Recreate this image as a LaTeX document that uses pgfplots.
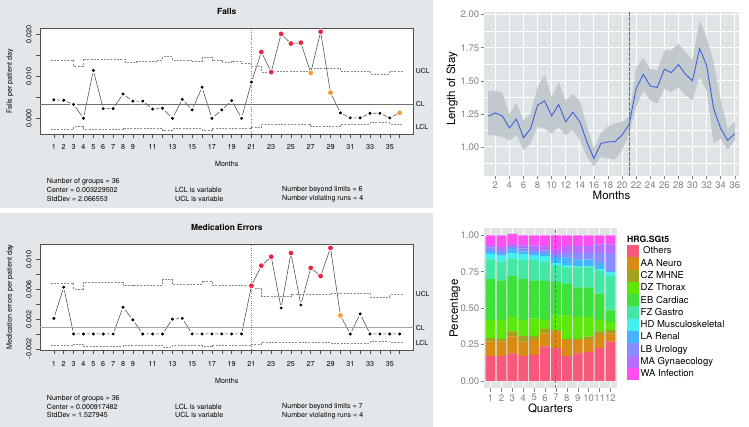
\documentclass[border=0pt]{standalone}
\usepackage{pgfplots}
\pgfplotsset{compat=1.18}
\usepackage{pgfplotstable}
\usepackage{fontspec}
\setmainfont{TeX Gyre Heros}

\newcommand{\fs}[1]{\fontsize{#1bp}{#1bp}\selectfont}

% qcc panels
\definecolor{qbg}{HTML}{E3E7EA}
\definecolor{qframe}{HTML}{505050}
\definecolor{qline}{HTML}{4A4A4A}
\definecolor{qlim}{HTML}{8A8A8A}
\definecolor{qcl}{HTML}{707070}
\definecolor{qred}{HTML}{E8233F}
\definecolor{qorange}{HTML}{F59B2F}
\definecolor{qvline}{HTML}{EA4C78}
% ggplot panels
\definecolor{ggbg}{HTML}{DFE4E7}
\definecolor{ggrib}{HTML}{BCC5CA}
\definecolor{ggblue}{HTML}{3F5FDB}
\definecolor{ggred}{HTML}{E23C46}
\definecolor{ggtick}{HTML}{7F7F7F}
% HRG groups
\definecolor{cOthers}{HTML}{F7587C}
\definecolor{cAA}{HTML}{D98B14}
\definecolor{cCZ}{HTML}{A3A21C}
\definecolor{cDZ}{HTML}{5CE80A}
\definecolor{cEB}{HTML}{3EE03A}
\definecolor{cFZ}{HTML}{44E8A4}
\definecolor{cHD}{HTML}{44F0EE}
\definecolor{cLA}{HTML}{45B5FF}
\definecolor{cLB}{HTML}{8A8CFF}
\definecolor{cMA}{HTML}{B76DFF}
\definecolor{cWA}{HTML}{FF4FF0}

\pgfplotsset{
  qcc/.style={
    scale only axis, width=373.5bp, height=106bp,
    xmin=-0.4, xmax=37.4,
    axis background/.style={fill=white},
    axis line style={draw=qframe, line width=0.6bp},
    tick align=outside, xtick pos=bottom, ytick pos=left,
    major tick length=3.8bp,
    tick style={draw=qframe, line width=0.5bp},
    xtick={1,...,36},
    xticklabels={1,2,3,4,5,6,7,8,9,,11,,13,,15,,17,,19,,21,,23,,25,,27,,29,,31,,33,,35,},
    ticklabel style={font=\fs{7.2}, text=black},
    xticklabel style={inner sep=0pt, anchor=north, yshift=-6.4bp},
    yticklabel style={inner sep=0pt, xshift=-4.5bp, rotate=90, anchor=south},
    scaled y ticks=false,
  },
  limit/.style={qlim, line width=0.6bp, dash pattern=on 2bp off 1.3bp, const plot, mark=none},
  halo/.style={only marks, mark=*, white, mark size=3.1bp},
  pts/.style={scatter, only marks, scatter src=explicit symbolic,
    scatter/classes={
      b={mark=*, mark size=1.3bp, black},
      r={mark=*, mark size=2.1bp, qred},
      o={mark=*, mark size=2.1bp, qorange}}},
  ggax/.style={
    scale only axis,
    axis background/.style={fill=ggbg},
    axis line style={draw=none},
    tick align=outside, xtick pos=bottom, ytick pos=left,
    major tick length=3.5bp, minor tick length=0pt,
    tick style={draw=ggtick, line width=0.5bp},
    major grid style={draw=white, line width=0.9bp},
    minor grid style={draw=white, line width=0.45bp},
    ticklabel style={font=\fs{9.5}, text=ggtick},
    xticklabel style={inner sep=0pt, anchor=north, yshift=-2.4bp},
    yticklabel style={inner sep=0pt, anchor=east, xshift=-1.2bp},
    /pgf/number format/assume math mode=true,
  },
  hrg/.style={draw=none, legend image code/.code={\fill[##1] (0bp,-6.15bp) rectangle (12.3bp,6.15bp);}},
}

% Falls per patient day (c: b in control, r beyond limits, o violating runs)
\pgfplotstableread{
m v c
1 0.0044 b
2 0.0043 b
3 0.0033 b
4 0.0000 b
5 0.0114 b
6 0.0023 b
7 0.0023 b
8 0.0058 b
9 0.0041 b
10 0.0041 b
11 0.0022 b
12 0.0024 b
13 0.0000 b
14 0.0045 b
15 0.0020 b
16 0.0074 b
17 0.0000 b
18 0.0020 b
19 0.0042 b
20 0.0000 b
21 0.0086 b
22 0.0158 r
23 0.0110 r
24 0.0201 r
25 0.0178 r
26 0.0180 r
27 0.0108 o
28 0.0206 r
29 0.0061 o
30 0.0013 b
31 0.0001 b
32 0.0001 b
33 0.0012 b
34 0.0012 b
35 0.0001 b
36 0.0013 o
}\falls

\pgfplotstableread{
m v
0.7 0.0139
3.0 0.01245
3.95 0.0141
8.2 0.01324
9.3 0.01348
11.5 0.0139
12.0 0.01467
13.0 0.0139
15.0 0.01348
16.0 0.01452
17.0 0.0137
18.0 0.01324
19.0 0.0136
20.0 0.0132
21.0 0.01245
22.0 0.01095
23.0 0.0113
27.0 0.0119
30.0 0.0113
33.0 0.01055
35.0 0.0112
36.3 0.0112
}\fallsucl

\pgfplotstableread{
m v
0.7 -0.0026
3.0 -0.0020
3.95 -0.0026
8.0 -0.0023
12.0 -0.00286
13.0 -0.0025
16.0 -0.0028
17.0 -0.0023
21.0 -0.00215
22.0 -0.00143
27.0 -0.0018
30.0 -0.0015
33.0 -0.00105
35.0 -0.0014
36.3 -0.0014
}\fallslcl

% Medication errors per patient day
\pgfplotstableread{
m v c
1 0.0021 b
2 0.0063 b
3 0 b
4 0 b
5 0 b
6 0 b
7 0 b
8 0.0036 b
9 0.0019 b
10 0 b
11 0 b
12 0 b
13 0.0020 b
14 0.0021 b
15 0 b
16 0 b
17 0 b
18 0 b
19 0 b
20 0 b
21 0.0065 r
22 0.0092 r
23 0.0104 r
24 0.0035 b
25 0.0109 r
26 0.0039 b
27 0.0089 r
28 0.0078 r
29 0.0116 r
30 0.0025 o
31 0 b
32 0.0027 b
33 0 b
34 0 b
35 0 b
36 0 b
}\meds

\pgfplotstableread{
m v
0.7 0.00685
3.0 0.00608
3.95 0.00694
8.0 0.00649
9.0 0.0066
12.0 0.0073
13.0 0.0067
16.0 0.00716
17.0 0.0066
20.0 0.00649
21.0 0.0061
22.0 0.00514
25.0 0.0053
29.0 0.0055
33.0 0.0050
35.0 0.0053
36.3 0.0053
}\medsucl

\pgfplotstableread{
m v
0.7 -0.00158
3.0 -0.00135
3.95 -0.00166
8.0 -0.0015
12.0 -0.00176
13.0 -0.00158
16.0 -0.00166
17.0 -0.0015
21.0 -0.0014
22.0 -0.00112
29.0 -0.00122
33.0 -0.0010
35.0 -0.0011
36.3 -0.0011
}\medslcl

% Length of stay: monthly mean
\pgfplotstableread{
m mean
1 1.232
2 1.257
3 1.234
4 1.143
5 1.21
6 1.07
7 1.136
8 1.315
9 1.347
10 1.234
11 1.32
12 1.19
13 1.262
14 1.19
15 1.038
16 0.912
17 1.026
18 1.038
19 1.04
20 1.09
21 1.171
22 1.441
23 1.549
24 1.461
25 1.449
26 1.587
27 1.562
28 1.622
29 1.549
30 1.50
31 1.743
32 1.617
33 1.29
34 1.139
35 1.05
36 1.10
}\los

% band outline: upper edge forward, lower edge back
\pgfplotstableread{
m b
1 1.423
2 1.425
3 1.41
4 1.25
5 1.33
6 1.20
7 1.25
8 1.45
9 1.55
10 1.378
11 1.49
12 1.35
13 1.40
14 1.35
15 1.16
16 0.99
17 1.106
18 1.156
19 1.177
20 1.19
21 1.227
22 1.60
23 1.675
24 1.59
25 1.58
26 1.73
27 1.73
28 1.78
29 1.717
30 1.655
31 1.957
32 1.83
33 1.64
34 1.353
35 1.14
36 1.19
36 1.05
35 0.975
34 1.063
33 1.026
32 1.43
31 1.53
30 1.353
29 1.39
28 1.45
27 1.415
26 1.44
25 1.328
24 1.353
23 1.428
22 1.30
21 1.10
20 0.975
19 0.905
18 0.912
17 0.925
16 0.854
15 0.925
14 1.05
13 1.126
12 1.088
11 1.15
10 1.10
9 1.14
8 1.15
7 1.025
6 0.975
5 1.088
4 1.05
3 1.075
2 1.088
1 1.088
}\band

% case mix shares by quarter
\pgfplotstableread{
q others aa cz dz eb fz hd la lb ma wa
1 .17 .10 .025 .125 .28 .135 .035 .023 .022 .02 .065
2 .17 .10 .02 .13 .27 .13 .04 .02 .02 .02 .08
3 .19 .115 .035 .10 .28 .12 .04 .025 .015 .02 .07
4 .17 .10 .04 .11 .28 .13 .04 .02 .02 .02 .07
5 .18 .10 .03 .12 .26 .14 .03 .02 .02 .03 .07
6 .237 .09 .03 .06 .27 .13 .04 .02 .02 .03 .073
7 .226 .114 .01 .10 .23 .11 .02 .04 .02 .03 .10
8 .17 .11 .01 .16 .216 .114 .015 .051 .034 .045 .075
9 .19 .09 .01 .15 .20 .14 .01 .045 .045 .045 .075
10 .20 .08 .025 .135 .20 .14 .01 .045 .045 .045 .075
11 .226 .09 .024 .08 .18 .156 .014 .04 .07 .057 .063
12 .27 .057 .023 .056 .079 .235 .025 .011 .114 .067 .063
}\bars

\begin{document}
\begin{tikzpicture}
\path[use as bounding box] (0,0) rectangle (749bp,427bp);
\fill[qbg] (0,219bp) rectangle (433bp,427bp);
\fill[qbg] (0,0) rectangle (433bp,214bp);

%% Falls
\begin{axis}[qcc, at={(40bp,292.7bp)}, anchor=south west,
  ymin=-0.00381, ymax=0.02143,
  ytick={0,0.005,0.01,0.015,0.02}, yticklabels={0.000,,0.010,,0.020}]
\addplot[qline, line width=0.55bp, mark=none] table[x=m,y=v] {\falls};
\addplot[halo] table[x=m,y=v] {\falls};
\addplot[limit] table[x=m,y=v] {\fallsucl};
\addplot[limit] table[x=m,y=v] {\fallslcl};
\addplot[qcl, line width=0.7bp, mark=none] coordinates {(-0.4,0.003229502) (37.4,0.003229502)};
\addplot[pts] table[x=m,y=v,meta=c] {\falls};
\end{axis}
\node[font=\bfseries\fs{8.4}] at (226.75bp,416bp) {Falls};
\node[font=\fs{7.2}, rotate=90] at (10bp,345.7bp) {Falls per patient day};
\node[font=\fs{7.1}] at (226.75bp,262.7bp) {Months};
\node[font=\fs{6.8}, anchor=west, inner sep=0pt] at (415.7bp,356.3bp) {UCL};
\node[font=\fs{6.8}, anchor=west, inner sep=0pt] at (415.7bp,322.7bp) {CL};
\node[font=\fs{6.8}, anchor=west, inner sep=0pt] at (415.7bp,300.3bp) {LCL};
\begin{scope}[every node/.style={font=\fs{7.1}, anchor=west, inner sep=0pt}]
\node at (46.7bp,245.3bp) {Number of groups = 36};
\node at (46.7bp,237bp) {Center = 0.003229502};
\node at (46.7bp,228.3bp) {StdDev = 2.066553};
\node at (175bp,237bp) {LCL is variable};
\node at (175bp,228.3bp) {UCL is variable};
\node at (282bp,237bp) {Number beyond limits = 6};
\node at (282bp,228.3bp) {Number violating runs = 4};
\end{scope}

%% Medication errors
\begin{axis}[qcc, at={(40bp,77bp)}, anchor=south west,
  ymin=-0.00216, ymax=0.01212,
  ytick={-0.002,0,0.002,0.004,0.006,0.008,0.010},
  yticklabels={-0.002,,0.002,,0.006,,0.010},
  xticklabel style={yshift=-1.3bp}]
\addplot[qline, line width=0.55bp, mark=none] table[x=m,y=v] {\meds};
\addplot[halo] table[x=m,y=v] {\meds};
\addplot[limit] table[x=m,y=v] {\medsucl};
\addplot[limit] table[x=m,y=v] {\medslcl};
\addplot[black!35, line width=1.3bp, mark=none] coordinates {(-0.4,0.000917482) (37.4,0.000917482)};
\addplot[pts] table[x=m,y=v,meta=c] {\meds};
\end{axis}
\node[font=\bfseries\fs{8.4}] at (226.75bp,199.7bp) {Medication Errors};
\node[font=\fs{7.2}, rotate=90] at (10bp,130bp) {Medication errors per patient day};
\node[font=\fs{7.1}] at (226.75bp,46bp) {Months};
\node[font=\fs{6.8}, anchor=west, inner sep=0pt] at (415.7bp,133bp) {UCL};
\node[font=\fs{6.8}, anchor=west, inner sep=0pt] at (415.7bp,98.7bp) {CL};
\node[font=\fs{6.8}, anchor=west, inner sep=0pt] at (415.7bp,83.7bp) {LCL};
\begin{scope}[every node/.style={font=\fs{7.1}, anchor=west, inner sep=0pt}]
\node at (46.7bp,28.7bp) {Number of groups = 36};
\node at (46.7bp,20bp) {Center = 0.000917482};
\node at (46.7bp,11.7bp) {StdDev = 1.527945};
\node at (175bp,20bp) {LCL is variable};
\node at (175bp,11.7bp) {UCL is variable};
\node at (282bp,20bp) {Number beyond limits = 7};
\node at (282bp,11.7bp) {Number violating runs = 4};
\end{scope}

%% Length of stay
\begin{axis}[ggax, at={(484bp,251bp)}, anchor=south west,
  width=255bp, height=164bp,
  xmin=0.4, xmax=36.6, ymin=0.78, ymax=2.02,
  xtick={2,4,...,36}, ytick={1,1.25,1.5,1.75,2},
  minor ytick={0.875,1.125,1.375,1.625,1.875},
  xmajorgrids, ymajorgrids, yminorgrids,
  yticklabel style={/pgf/number format/.cd, fixed, fixed zerofill, precision=2}]
\addplot[fill=ggrib, draw=none, fill opacity=0.85] table[x=m,y=b] {\band};
\addplot[ggblue, line width=0.9bp, mark=none] table[x=m,y=mean] {\los};
\end{axis}
\node[font=\fs{11.5}, rotate=90] at (452bp,338bp) {Length of Stay};
\node[font=\fs{11.5}] at (611.5bp,232bp) {Months};

%% Case mix
\begin{axis}[ggax, at={(484bp,38.7bp)}, anchor=south west,
  width=133bp, height=160.3bp,
  xmin=0.4, xmax=12.6, ymin=-0.05, ymax=1.05,
  ybar stacked, bar width=0.9,
  xtick={1,...,12}, ytick={0,0.25,0.5,0.75,1},
  minor ytick={0.125,0.375,0.625,0.875},
  xmajorgrids, ymajorgrids, yminorgrids,
  yticklabel style={/pgf/number format/.cd, fixed, fixed zerofill, precision=2},
  legend cell align=left,
  legend style={at={(1.073,0.894)}, anchor=north west, draw=none, fill=none,
    inner sep=0pt, outer sep=0pt, row sep=0pt, /tikz/column sep=1.7bp,
    font=\fs{9.5}, nodes={inner sep=0pt, text=black}}]
\addplot[hrg, fill=cOthers] table[x=q,y=others] {\bars};
\addlegendentry{\hspace{2.5bp}Others}
\addplot[hrg, fill=cAA] table[x=q,y=aa] {\bars};
\addlegendentry{AA Neuro}
\addplot[hrg, fill=cCZ] table[x=q,y=cz] {\bars};
\addlegendentry{CZ MHNE}
\addplot[hrg, fill=cDZ] table[x=q,y=dz] {\bars};
\addlegendentry{DZ Thorax}
\addplot[hrg, fill=cEB] table[x=q,y=eb] {\bars};
\addlegendentry{EB Cardiac}
\addplot[hrg, fill=cFZ] table[x=q,y=fz] {\bars};
\addlegendentry{FZ Gastro}
\addplot[hrg, fill=cHD] table[x=q,y=hd] {\bars};
\addlegendentry{HD Musculoskeletal}
\addplot[hrg, fill=cLA] table[x=q,y=la] {\bars};
\addlegendentry{LA Renal}
\addplot[hrg, fill=cLB] table[x=q,y=lb] {\bars};
\addlegendentry{LB Urology}
\addplot[hrg, fill=cMA] table[x=q,y=ma] {\bars};
\addlegendentry{MA Gynaecology}
\addplot[hrg, fill=cWA] table[x=q,y=wa] {\bars};
\addlegendentry{WA Infection}
\end{axis}
\node[font=\bfseries\fs{8.7}, anchor=west, inner sep=0pt] at (627bp,188bp) {HRG.SGt5};
\node[font=\fs{11.5}, rotate=90] at (455bp,118.5bp) {Percentage};
\node[font=\fs{11.5}] at (550.5bp,18bp) {Quarters};

% markers for the start of the new period, built from small filled dashes
\foreach \y in {293,295.4,...,397.5} {
  \fill[qvline] (251.1bp,\y bp) rectangle ++(0.75bp,1bp);
}
\foreach \y in {77.3,79.7,...,181.5} {
  \fill[qvline] (251.1bp,\y bp) rectangle ++(0.75bp,1bp);
}
\foreach \y in {251,256,...,411} {
  \fill[ggred] (628.5bp,\y bp) rectangle ++(1.2bp,3.6bp);
}
\foreach \y in {38.7,43.7,...,195.5} {
  \fill[ggred] (555.2bp,\y bp) rectangle ++(1.2bp,3.6bp);
}
\end{tikzpicture}
\end{document}
